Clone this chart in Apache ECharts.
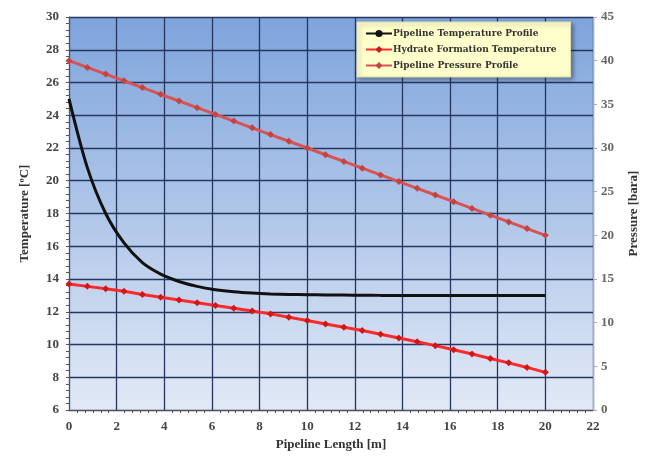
<!DOCTYPE html>
<html>
<head>
<meta charset="utf-8">
<script src="https://cdn.jsdelivr.net/npm/echarts@6/dist/echarts.min.js"></script>
<style>
  html, body { margin: 0; padding: 0; background: #fff; }
  #main { width: 648px; height: 460px; }
</style>
</head>
<body>
<div id="main"></div>
<script>
// pipeline length [m]
var lengths = [0, 0.77, 1.54, 2.31, 3.08, 3.85, 4.62, 5.38, 6.15, 6.92, 7.69, 8.46, 9.23, 10,
  10.77, 11.54, 12.31, 13.08, 13.85, 14.62, 15.38, 16.15, 16.92, 17.69, 18.46, 19.23, 20];
// pipeline temperature profile [C]
var pipeTemp = [25.0, 20.8, 18.0, 16.2, 15.0, 14.3, 13.85, 13.55, 13.35, 13.22, 13.14, 13.09, 13.06, 13.04,
  13.03, 13.02, 13.01, 13.0, 13.0, 13.0, 13.0, 13.0, 13.0, 13.0, 13.0, 13.0, 13.0];
// hydrate formation temperature [C]
var hydrateTemp = [13.70, 13.55, 13.40, 13.25, 13.05, 12.88, 12.72, 12.55, 12.38, 12.22, 12.05, 11.87, 11.67, 11.47,
  11.25, 11.05, 10.85, 10.63, 10.40, 10.17, 9.93, 9.68, 9.42, 9.15, 8.88, 8.60, 8.30];
// pipeline pressure profile [bara]
var pressure = [40, 39.23, 38.46, 37.69, 36.92, 36.15, 35.38, 34.62, 33.85, 33.08, 32.31, 31.54, 30.77, 30,
  29.23, 28.46, 27.69, 26.92, 26.15, 25.38, 24.62, 23.85, 23.08, 22.31, 21.54, 20.77, 20];

function pairs(xs, ys) {
  var res = [];
  for (var i = 0; i < xs.length; i++) res.push([xs[i], ys[i]]);
  return res;
}

var font = "Liberation Serif";
var chart = echarts.init(document.getElementById("main"));
var option = {
  backgroundColor: "#ffffff",
  textStyle: { fontFamily: font },
  grid: {
    left: 69, right: 55, top: 17, bottom: 50,
    show: true,
    borderWidth: 0,
    backgroundColor: new echarts.graphic.LinearGradient(0, 0, 0, 1, [
      { offset: 0, color: "#7ea4dc" },
      { offset: 1, color: "#e2e9f6" }
    ])
  },
  legend: {
    orient: "vertical",
    left: 357, top: 22,
    padding: [7, 14, 7, 8],
    itemGap: 7,
    itemWidth: 26, itemHeight: 9,
    backgroundColor: "#ffffcc",
    borderColor: "#e0e0b0",
    borderWidth: 1,
    shadowColor: "rgba(0,0,0,0.35)",
    shadowBlur: 4,
    shadowOffsetX: 2, shadowOffsetY: 2,
    textStyle: { fontFamily: "DejaVu Serif", fontWeight: "bold", fontSize: 9, color: "#333", padding: [0, 0, 0, -4] },
    data: ["Pipeline Temperature Profile", "Hydrate Formation Temperature", "Pipeline Pressure Profile"]
  },
  xAxis: {
    type: "value",
    min: 0, max: 22, interval: 2,
    name: "Pipeline Length [m]",
    nameLocation: "middle",
    nameGap: 28,
    nameTextStyle: { fontFamily: font, fontWeight: "bold", fontSize: 13, color: "#333" },
    axisLine: { show: true, lineStyle: { color: "#555", width: 1 } },
    axisTick: { show: false },
    minorTick: { show: true, splitNumber: 6, length: 3, lineStyle: { color: "#555" } },
    axisLabel: { fontFamily: font, fontWeight: "bold", fontSize: 13, color: "#444", margin: 10 },
    splitLine: { show: true, lineStyle: { color: "#27365f", width: 1.3 } }
  },
  yAxis: [
    {
      type: "value",
      min: 6, max: 30, interval: 2,
      name: "Temperature [ºC]",
      nameLocation: "middle",
      nameRotate: 90,
      nameGap: 38,
      nameTextStyle: { fontFamily: font, fontWeight: "bold", fontSize: 13, color: "#333" },
      axisLine: { show: true, lineStyle: { color: "#555", width: 1 } },
      axisTick: { show: true, length: 3, lineStyle: { color: "#555" } },
      minorTick: { show: true, splitNumber: 5, length: 3, lineStyle: { color: "#555" } },
      axisLabel: { fontFamily: font, fontWeight: "bold", fontSize: 13, color: "#444", margin: 10 },
      splitLine: { show: true, lineStyle: { color: "#27365f", width: 1.3 } }
    },
    {
      type: "value",
      min: 0, max: 45, interval: 5,
      position: "right",
      name: "Pressure [bara]",
      nameLocation: "middle",
      nameRotate: 90,
      nameGap: 34,
      nameTextStyle: { fontFamily: font, fontWeight: "bold", fontSize: 13, color: "#333" },
      axisLine: { show: true, lineStyle: { color: "#aaa", width: 1 } },
      axisTick: { show: true, length: 4, inside: false, lineStyle: { color: "#aaa" } },
      axisLabel: { fontFamily: font, fontWeight: "bold", fontSize: 13, color: "#666", margin: 8 },
      splitLine: { show: false }
    }
  ],
  series: [
    {
      name: "Pipeline Temperature Profile",
      type: "line",
      yAxisIndex: 0,
      smooth: 0.3,
      data: pairs(lengths, pipeTemp),
      symbol: "none",
      lineStyle: { color: "#111", width: 3 },
      itemStyle: { color: "#111" },
      z: 3
    },
    {
      name: "Hydrate Formation Temperature",
      type: "line",
      yAxisIndex: 0,
      data: pairs(lengths, hydrateTemp),
      symbol: "diamond",
      symbolSize: 7,
      lineStyle: { color: "#ff2a2a", width: 3 },
      itemStyle: { color: "#d01818" },
      z: 3
    },
    {
      name: "Pipeline Pressure Profile",
      type: "line",
      yAxisIndex: 1,
      data: pairs(lengths, pressure),
      symbol: "diamond",
      symbolSize: 7,
      lineStyle: { color: "#d85454", width: 3 },
      itemStyle: { color: "#c44444" },
      z: 3
    }
  ]
};
option && chart.setOption(option);
</script>
</body>
</html>
